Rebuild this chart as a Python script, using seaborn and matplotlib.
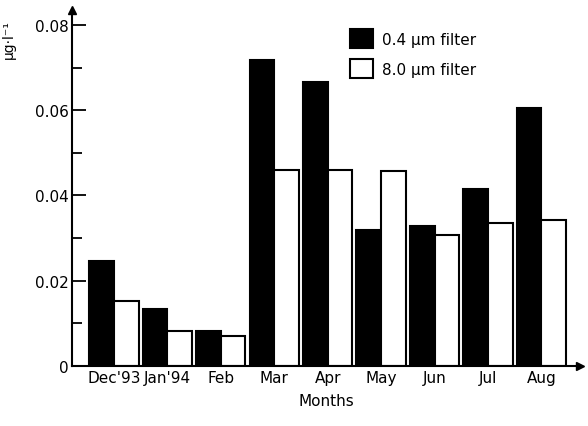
import matplotlib
matplotlib.use("Agg")
import matplotlib.pyplot as plt
import pandas as pd
import seaborn as sns
from matplotlib.ticker import FixedLocator, MultipleLocator

months = ["Dec'93", "Jan'94", "Feb", "Mar", "Apr", "May", "Jun", "Jul", "Aug"]
filter_04 = [0.0245, 0.0133, 0.0082, 0.0718, 0.0667, 0.0319, 0.0328, 0.0416, 0.0606]
filter_80 = [0.0151, 0.0081, 0.0071, 0.0459, 0.0459, 0.0458, 0.0306, 0.0336, 0.0343]
series_names = ["0.4 μm filter", "8.0 μm filter"]

df = pd.DataFrame({
    "month": months * 2,
    "value": filter_04 + filter_80,
    "filter": [series_names[0]] * len(months) + [series_names[1]] * len(months),
})

sns.set_style("white")
plt.rcParams["font.family"] = ["DejaVu Sans"]
plt.rcParams["text.color"] = "black"
plt.rcParams["axes.labelcolor"] = "black"
plt.rcParams["xtick.color"] = "black"
plt.rcParams["ytick.color"] = "black"

fig = plt.figure(figsize=(5.88, 4.27), dpi=100)
ax = fig.add_axes([0.122, 0.141, 0.865, 0.833])

sns.barplot(
    data=df, x="month", y="value", hue="filter",
    palette={series_names[0]: "black", series_names[1]: "white"},
    edgecolor="black", linewidth=1.5, width=0.92, gap=0.0,
    ax=ax, legend=True,
)

ax.set_xlim(-0.79, 8.73)
ax.set_ylim(0, 0.0835)
ax.yaxis.set_major_locator(FixedLocator([0, 0.02, 0.04, 0.06, 0.08]))
ax.yaxis.set_minor_locator(MultipleLocator(0.01))
ax.set_yticklabels(["0", "0.02", "0.04", "0.06", "0.08"])
ax.tick_params(axis="y", which="major", left=True, direction="in", length=10,
               width=1.3, labelsize=11, pad=2)
ax.tick_params(axis="y", which="minor", left=True, direction="in", length=7,
               width=1.3)
ax.tick_params(axis="x", length=0, labelsize=11, pad=3)

for side in ["top", "right"]:
    ax.spines[side].set_visible(False)
for side in ["left", "bottom"]:
    ax.spines[side].set_linewidth(1.5)
    ax.spines[side].set_color("black")
ax.plot(1, 0, ">k", ms=6, transform=ax.transAxes, clip_on=False)
ax.plot(0, 1, "^k", ms=6, transform=ax.transAxes, clip_on=False)

ax.set_xlabel("Months", fontsize=11, labelpad=6)
ax.set_ylabel("μg·l⁻¹", fontsize=10)
ax.yaxis.set_label_coords(-0.11, 0.92)

leg = ax.legend(frameon=False, loc="upper left", bbox_to_anchor=(0.52, 0.985),
                fontsize=11, handlelength=1.5, handleheight=1.5,
                handletextpad=0.6, labelspacing=0.75)
for h in leg.legend_handles:
    h.set_linewidth(1.5)

fig.savefig("out.png", dpi=100)
